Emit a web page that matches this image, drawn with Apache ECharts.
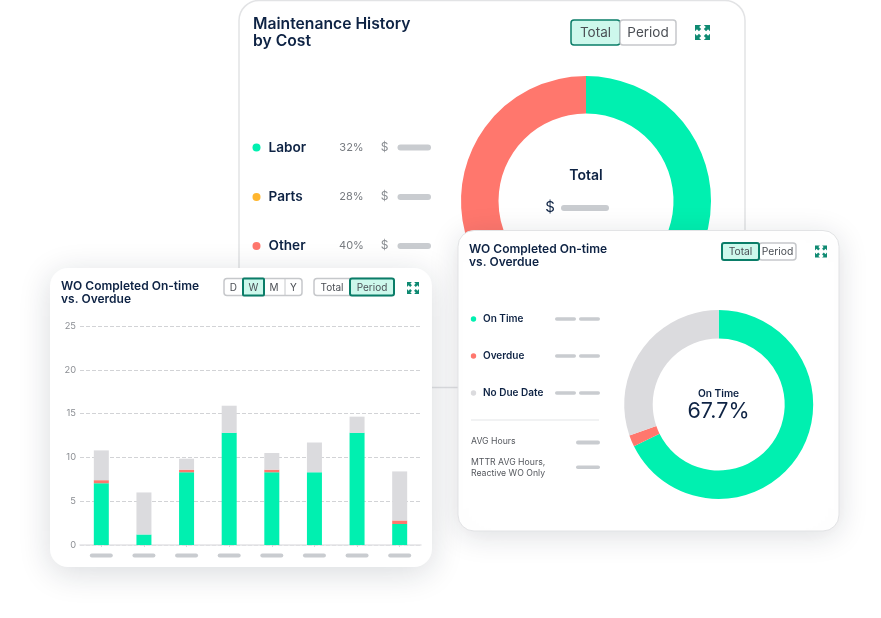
<!DOCTYPE html>
<html><head><meta charset="utf-8">
<style>html,body{margin:0;padding:0;background:#fff}#c{width:881px;height:618px}</style>
<script src="https://cdn.jsdelivr.net/npm/echarts@6/dist/echarts.min.js"></script>
</head><body><div id="c"></div>
<script>
// ---- data ----
const weekCats = ['W1','W2','W3','W4','W5','W6','W7','W8'];
const onTimeWeekly = [7.05,1.2,8.3,12.8,8.3,8.3,12.8,2.4];
const overdueWeekly = [0.35,0,0.3,0,0.3,0,0,0.4];
const noDueWeekly = [3.4,4.8,1.25,3.1,1.9,3.4,1.85,5.6];
const yTicks = [0,5,10,15,20,25];
const costNames = ['Labor','Parts','Other'];
const costShares = [32,28,40];
const woNames = ['On Time','Overdue','No Due Date'];
const woShares = [67.7,2.0,30.3];

const NAVY='#0E2344',GREEN='#00F0B0',RED='#FF776D',GREY='#DBDBDE',ORANGE='#FFB62E',PILL='#C9CCD0',DARK='#0A7D68',FILL='#CDF8EC',TXT='#55585E';
const FF='Inter, "Open Sans", sans-serif';
const els=[];
function rect(x,y,w,h,r,fill,z,extra){els.push({type:'rect',z,shape:{x,y,width:w,height:h,r},style:Object.assign({fill},extra||{})});}
function pill(x,y,w,h,z,fill){rect(x,y,w,h,h/2,fill||PILL,z);}
function dot(cx,cy,r,fill,z){els.push({type:'circle',z,shape:{cx,cy,r},style:{fill}});}
function text(x,y,t,size,weight,color,z,align,lh){els.push({type:'text',z,x,y,style:{text:t,fontFamily:FF,fontSize:size,fontWeight:weight,fill:color,align:align||'left',verticalAlign:'middle',lineHeight:lh||size*1.2}});}
function btn(x,y,w,h,label,active,z,size,radius){
  const rr=radius||3;
  rect(x,y,w,h,rr,active?FILL:'#fff',z+(active?1:0),{stroke:active?DARK:'#C6C8CB',lineWidth:active?2:1.5});
  if(label)text(x+w/2,y+h/2+.5,label,size,400,'#4b4f55',z+2,'center');
}
function icon(x,y,s,z){ // four corner arrows
  const a=s*0.41;
  [[0,0,1,1],[s,0,-1,1],[0,s,1,-1],[s,s,-1,-1]].forEach(([ox,oy,dx,dy])=>{
    const X=x+ox,Y=y+oy;
    els.push({type:'polygon',z,shape:{points:[[X,Y],[X+dx*a,Y],[X+dx*a*.68,Y+dy*a*.32],[X+dx*a,Y+dy*a*.64],[X+dx*a*.64,Y+dy*a],[X+dx*a*.32,Y+dy*a*.68],[X,Y+dy*a]]},style:{fill:'#0F8A72'}});
  });
}
// Card 1 — back
rect(239,0.5,506,387,20,'#fff',0,{stroke:'#E2E3E5',lineWidth:1.5});
text(253,33,'Maintenance History\nby Cost',15.7,600,NAVY,1,'left',17.5);
rect(571,20,49,25,3,FILL,1,{stroke:DARK,lineWidth:1.5});
rect(620,20,56,25,3,'#fff',2,{stroke:'#C6C8CB',lineWidth:1.5});
text(595.5,33,'Total',13.5,400,'#4b4f55',3,'center');
text(648,33,'Period',13.5,400,'#4b4f55',3,'center');
icon(695,25,15,3);
const rowsY=[147.5,197,246],pct=['32%','28%','40%'],cols=[GREEN,ORANGE,RED];
costNames.forEach((n,i)=>{
  dot(256.5,rowsY[i],4,cols[i],1);
  text(268.5,rowsY[i],n,13.6,600,NAVY,1);
  text(351.5,rowsY[i],pct[i],11,400,'#777B80',1,'center');
  text(384.5,rowsY[i]-.5,'$',12,400,'#8A8E93',1,'center');
  pill(397.5,rowsY[i]-3,33.5,6,1);
});
text(586,176,'Total',14,600,NAVY,3,'center');
text(550,207,'$',15,400,NAVY,3,'center');
pill(561,205,48,6,3);
// Card 2 — bars
rect(50,268,382,299,18,'#fff',5,{shadowBlur:32,shadowColor:'rgba(20,30,50,.16)',shadowOffsetY:6});
text(61,293,'WO Completed On-time\nvs. Overdue',12,600,NAVY,6,'left',13);
// segmented D W M Y
btn(224,278.5,78,17,'',false,6,10,3);
[['D',233.3],['M',274],['Y',293.5]].forEach(([l,x])=>text(x,287.5,l,10,400,'#4b4f55',8,'center'));
els.push({type:'line',z:7,shape:{x1:285,y1:279,x2:285,y2:295},style:{stroke:'#C6C8CB',lineWidth:1}});
btn(243,278.5,21,17,'W',true,7,10,1);
btn(314,278.5,80,17,'',false,6,10,3);
text(332,287.5,'Total',10,400,'#4b4f55',8,'center');
btn(350,278.5,44,17,'Period',true,7,10,2);
icon(407,282,12,8);
// Card 3 — donut
rect(458,230.5,381,300.5,16,'#fff',5,{stroke:'#E2E3E5',lineWidth:1,shadowBlur:30,shadowColor:'rgba(20,30,50,.14)',shadowOffsetY:5});
text(469,256,'WO Completed On-time\nvs. Overdue',12,600,NAVY,6,'left',13);
btn(759,243,37,17,'Period',false,6,10.3,3);
btn(722,243,37,17,'Total',true,7,10.3,2);
icon(815,245.5,12,8);
const ry=[319,356,393],wc=[GREEN,RED,GREY];
woNames.forEach((n,i)=>{
  dot(473.5,ry[i],2.7,wc[i],6);
  text(483,ry[i]+.3,n,10,600,NAVY,6);
  pill(555,ry[i]-1.7,21,3.4,6);
  pill(579,ry[i]-1.7,21,3.4,6);
});
els.push({type:'line',z:6,shape:{x1:471,y1:420,x2:599,y2:420},style:{stroke:'#E4E5E7',lineWidth:1.2}});
text(471,441,'AVG Hours',8.7,400,TXT,6);
pill(576,440.5,24,4,6);
text(471,468,'MTTR AVG Hours,\nReactive WO Only',8.7,400,TXT,6,'left',11.5);
pill(576,465.5,24,3.5,6);
text(718.5,393.5,'On Time',10.2,600,NAVY,8,'center');
text(718.5,411.5,'67.7%',21.5,400,NAVY,8,'center');

const pillRich={p:{backgroundColor:PILL,width:23,height:4,borderRadius:2}};
const option={
  animation:false,
  backgroundColor:'#fff',
  graphic:{elements:els},
  grid:{left:80,right:460,top:326,height:219,containLabel:false},
  xAxis:{type:'category',data:weekCats,z:6,
    axisLine:{lineStyle:{color:'#E3E4E6',width:1.5}},
    axisTick:{show:true,alignWithLabel:true,length:2,lineStyle:{color:'#D5D6D9'}},
    axisLabel:{margin:8.5,interval:0,formatter:()=>'{p| }',rich:pillRich}},
  yAxis:{type:'value',min:0,max:25,interval:5,z:6,
    axisLine:{show:false},axisTick:{show:false},
    axisLabel:{margin:4,color:'#8B8E93',fontSize:9.3,fontFamily:FF,formatter:v=>yTicks.includes(v)?String(v):''},
    splitLine:{lineStyle:{color:'#D2D3D6',type:[4,2],width:1}}},
  series:[
    {type:'bar',name:'On Time',stack:'w',data:onTimeWeekly,barWidth:15,itemStyle:{color:GREEN},z:7},
    {type:'bar',name:'Overdue',stack:'w',data:overdueWeekly,barWidth:15,itemStyle:{color:RED},z:7},
    {type:'bar',name:'No Due Date',stack:'w',data:noDueWeekly,barWidth:15,itemStyle:{color:GREY},z:7},
    {type:'pie',name:'Cost',z:1,center:[586,201],radius:[87.5,125],startAngle:90,clockwise:true,silent:true,
      label:{show:false},labelLine:{show:false},
      data:costNames.map((n,i)=>({name:n,value:costShares[i],itemStyle:{color:cols[i]}}))},
    {type:'pie',name:'WO',z:7,center:[718.7,404.5],radius:[66,94.5],startAngle:90,clockwise:true,silent:true,
      label:{show:false},labelLine:{show:false},
      data:woNames.map((n,i)=>({name:n,value:woShares[i],itemStyle:{color:wc[i]}}))}
  ]
};
echarts.init(document.getElementById('c'),null,{renderer:'canvas'}).setOption(option);
</script></body></html>
